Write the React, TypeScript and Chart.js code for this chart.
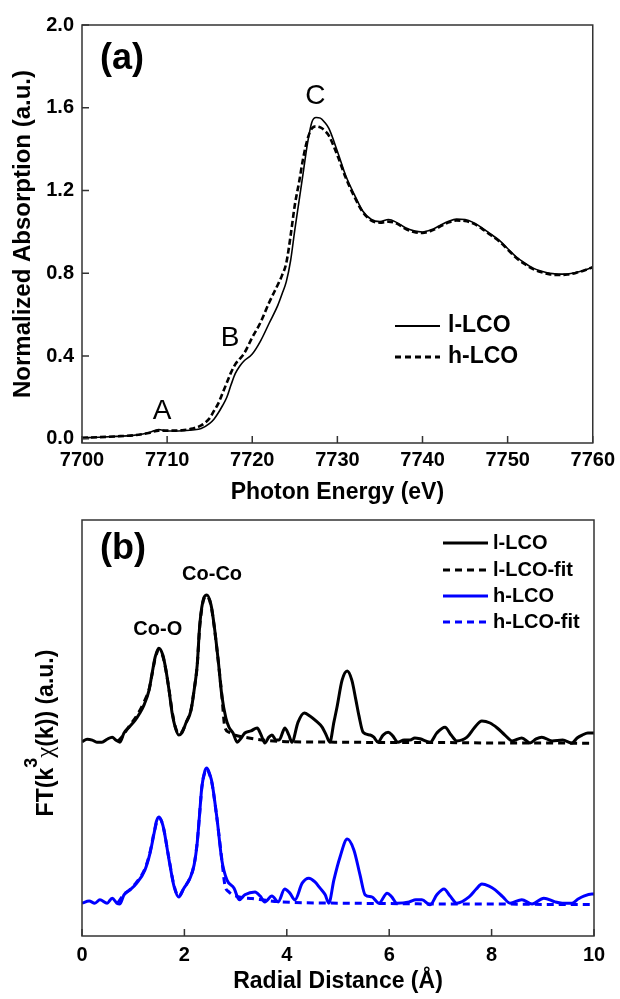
import React, { useEffect, useRef } from 'react';
import { Chart, registerables } from 'chart.js';

Chart.register(...registerables);

const FAMILY = '"Liberation Sans", Arial, Helvetica, sans-serif';

// ---------- Panel (a): XANES ----------
const energyEV = [
  7700, 7702, 7704, 7706, 7707, 7708, 7709, 7710, 7711, 7712,
  7713, 7714, 7715, 7715.5, 7716, 7716.5, 7717, 7717.5, 7718, 7718.5,
  7719, 7720, 7721, 7722, 7723, 7723.5, 7724, 7724.5, 7725, 7725.5,
  7726, 7726.5, 7727, 7727.5, 7728, 7728.5, 7729, 7730, 7731, 7732,
  7733, 7734, 7735, 7736, 7737, 7738, 7739, 7740, 7741, 7742,
  7743, 7744, 7745, 7746, 7747, 7748, 7749, 7750, 7751, 7752,
  7753, 7754, 7755, 7756, 7757, 7758, 7759, 7760,
];
const lLCOabs = [
  0.005, 0.008, 0.012, 0.017, 0.022, 0.032, 0.045, 0.038, 0.038, 0.040,
  0.043, 0.05, 0.075, 0.095, 0.125, 0.16, 0.20, 0.26, 0.315, 0.35,
  0.375, 0.41, 0.475, 0.56, 0.645, 0.70, 0.76, 0.86, 1.01, 1.15,
  1.29, 1.43, 1.53, 1.553, 1.55, 1.53, 1.50, 1.39, 1.27, 1.18,
  1.10, 1.06, 1.05, 1.06, 1.045, 1.02, 1.005, 1.00, 1.01, 1.03,
  1.05, 1.062, 1.06, 1.045, 1.02, 0.99, 0.96, 0.92, 0.88, 0.85,
  0.825, 0.81, 0.80, 0.796, 0.797, 0.804, 0.815, 0.83,
];
const hLCOabs = [
  0.005, 0.008, 0.012, 0.017, 0.022, 0.030, 0.040, 0.040, 0.040, 0.043,
  0.050, 0.065, 0.10, 0.135, 0.17, 0.22, 0.27, 0.32, 0.36, 0.385,
  0.41, 0.49, 0.565, 0.66, 0.745, 0.79, 0.85, 0.98, 1.13, 1.24,
  1.36, 1.45, 1.50, 1.51, 1.505, 1.49, 1.465, 1.37, 1.26, 1.17,
  1.095, 1.055, 1.045, 1.05, 1.04, 1.015, 1.0, 0.995, 1.005, 1.025,
  1.045, 1.055, 1.053, 1.04, 1.015, 0.985, 0.955, 0.915, 0.875, 0.845,
  0.82, 0.805, 0.795, 0.792, 0.794, 0.802, 0.814, 0.83,
];
const energyTicks = [7700, 7710, 7720, 7730, 7740, 7750, 7760];
const absTicks = [0, 0.4, 0.8, 1.2, 1.6, 2.0];

// ---------- Panel (b): EXAFS FT (offset, a.u.) ----------
const rL = [
  0, 0.10, 0.20, 0.29, 0.39, 0.49, 0.59, 0.66, 0.74, 0.82,
  0.92, 1.04, 1.13, 1.21, 1.31, 1.37, 1.43, 1.50, 1.58, 1.64,
  1.70, 1.76, 1.82, 1.89, 1.95, 2.03, 2.13, 2.19, 2.25, 2.30,
  2.38, 2.44, 2.52, 2.58, 2.66, 2.73, 2.81, 2.87, 2.95, 3.03,
  3.11, 3.18, 3.30, 3.42, 3.50, 3.57, 3.65, 3.71, 3.79, 3.85,
  3.93, 3.96, 4.04, 4.10, 4.22, 4.34, 4.45, 4.57, 4.69, 4.77,
  4.84, 4.92, 4.98, 5.08, 5.18, 5.27, 5.35, 5.41, 5.49, 5.63,
  5.70, 5.78, 5.88, 5.98, 6.07, 6.17, 6.29, 6.41, 6.50, 6.60,
  6.80, 6.93, 7.09, 7.21, 7.32, 7.52, 7.66, 7.81, 7.97, 8.11,
  8.26, 8.40, 8.59, 8.75, 8.87, 8.98, 9.18, 9.39, 9.57, 9.67,
  9.77, 9.88, 10.0,
];
const lLCO = [
  4.67, 4.73, 4.71, 4.66, 4.66, 4.73, 4.78, 4.71, 4.66, 4.88,
  5.02, 5.19, 5.36, 5.55, 5.91, 6.32, 6.71, 6.92, 6.75, 6.39,
  5.91, 5.36, 5.02, 4.83, 4.88, 5.12, 5.43, 5.91, 6.51, 7.48,
  8.13, 8.20, 7.96, 7.48, 6.63, 5.79, 5.24, 5.02, 4.88, 4.66,
  4.76, 4.88, 4.93, 5.00, 4.83, 4.64, 4.78, 4.83, 4.71, 4.71,
  4.93, 5.00, 4.83, 4.66, 5.14, 5.36, 5.29, 5.17, 5.02, 4.83,
  4.66, 5.14, 5.50, 6.15, 6.37, 6.15, 5.67, 5.29, 4.90, 4.83,
  4.78, 4.66, 4.83, 4.90, 4.81, 4.66, 4.71, 4.71, 4.76, 4.74,
  4.66, 4.88, 5.02, 4.83, 4.69, 4.78, 5.00, 5.17, 5.12, 5.00,
  4.83, 4.69, 4.76, 4.64, 4.74, 4.78, 4.69, 4.71, 4.64, 4.76,
  4.83, 4.88, 4.88,
];
const rLfit = [
  0.70, 0.80, 0.92, 1.04, 1.13, 1.21, 1.31, 1.37, 1.43, 1.50,
  1.58, 1.64, 1.70, 1.76, 1.82, 1.89, 1.95, 2.03, 2.13, 2.19,
  2.25, 2.30, 2.38, 2.44, 2.52, 2.58, 2.66, 2.73, 2.79, 2.87,
  2.99, 3.26, 3.6, 4.0, 5.0, 6.0, 7.0, 8.0, 9.0, 10.0,
];
const lLCOfit = [
  4.68, 4.82, 5.04, 5.24, 5.42, 5.62, 5.93, 6.30, 6.68, 6.88,
  6.72, 6.38, 5.92, 5.40, 5.04, 4.86, 4.90, 5.12, 5.45, 5.92,
  6.50, 7.45, 8.10, 8.17, 7.94, 7.46, 6.62, 5.80, 5.02, 4.90,
  4.83, 4.76, 4.70, 4.67, 4.66, 4.65, 4.65, 4.64, 4.64, 4.63,
];
const rH = [
  0, 0.14, 0.25, 0.35, 0.49, 0.59, 0.68, 0.74, 0.82, 0.94,
  1.07, 1.23, 1.33, 1.41, 1.45, 1.50, 1.56, 1.60, 1.70, 1.80,
  1.89, 1.99, 2.11, 2.19, 2.25, 2.30, 2.34, 2.40, 2.44, 2.50,
  2.54, 2.64, 2.73, 2.83, 2.97, 3.07, 3.18, 3.38, 3.48, 3.57,
  3.71, 3.83, 3.96, 4.06, 4.16, 4.30, 4.43, 4.55, 4.65, 4.75,
  4.82, 4.92, 5.04, 5.18, 5.31, 5.43, 5.53, 5.66, 5.80, 5.96,
  6.05, 6.15, 6.39, 6.52, 6.64, 6.80, 6.93, 7.07, 7.19, 7.32,
  7.56, 7.70, 7.81, 7.95, 8.07, 8.22, 8.36, 8.59, 8.79, 9.02,
  9.24, 9.38, 9.57, 9.69, 9.80, 9.96, 10.0,
];
const hLCO = [
  0.79, 0.84, 0.79, 0.87, 0.79, 0.91, 0.79, 0.77, 0.99, 1.11,
  1.27, 1.59, 2.00, 2.48, 2.74, 2.86, 2.74, 2.55, 1.83, 1.18,
  0.94, 1.15, 1.39, 1.71, 2.24, 2.98, 3.58, 3.97, 4.04, 3.87,
  3.68, 2.79, 1.83, 1.35, 1.15, 0.87, 0.99, 1.06, 0.96, 0.82,
  0.96, 0.82, 1.13, 1.03, 0.87, 1.27, 1.39, 1.30, 1.15, 0.99,
  0.79, 1.35, 1.90, 2.33, 2.07, 1.47, 0.99, 0.94, 0.79, 1.03,
  0.94, 0.79, 0.82, 0.87, 0.87, 0.75, 0.99, 1.13, 0.96, 0.79,
  0.94, 1.13, 1.25, 1.20, 1.11, 0.94, 0.79, 0.87, 0.77, 0.91,
  0.82, 0.79, 0.79, 0.89, 0.96, 1.01, 1.01,
];
const rHfit = [
  0.70, 0.82, 0.94, 1.07, 1.23, 1.33, 1.41, 1.50, 1.56, 1.60,
  1.70, 1.80, 1.89, 1.99, 2.11, 2.19, 2.25, 2.30, 2.34, 2.40,
  2.44, 2.50, 2.54, 2.64, 2.73, 2.79, 2.87, 3.07, 3.32, 3.9,
  5.0, 6.0, 7.0, 8.0, 9.0, 10.0,
];
const hLCOfit = [
  0.80, 1.00, 1.12, 1.30, 1.62, 2.02, 2.50, 2.84, 2.74, 2.55,
  1.85, 1.20, 0.96, 1.15, 1.40, 1.72, 2.25, 2.98, 3.56, 3.94,
  4.00, 3.85, 3.66, 2.78, 1.85, 1.23, 1.06, 0.94, 0.90, 0.82,
  0.79, 0.78, 0.77, 0.77, 0.76, 0.76,
];
const radialTicks = [0, 2, 4, 6, 8, 10];

const BLUE = '#0000ff';
const BLACK = '#000000';
const FRAME = '#333333';

const toXY = (xs: number[], ys: number[]) => {
  const n = Math.min(xs.length, ys.length);
  const out: { x: number; y: number }[] = [];
  for (let i = 0; i < n; i++) out.push({ x: xs[i], y: ys[i] });
  return out;
};

type Txt = { text: string; x: number; y: number; font: string };
type Leg = { label: string; color: string; dash: number[]; width: number; dy: number };
type DecorOpts = {
  texts: Txt[];
  legend: Leg[];
  legX0: number;
  legX1: number;
  legTextX: number;
  legFont: string;
  yTicks: boolean;
  tickLen: number;
  yTitleB?: boolean;
};

function decorPlugin(o: DecorOpts) {
  return {
    id: 'decor',
    afterDraw(chart: any) {
      const { ctx, chartArea: a, scales } = chart;
      ctx.save();
      ctx.strokeStyle = FRAME;
      ctx.lineWidth = 1.5;
      ctx.setLineDash([]);
      ctx.strokeRect(a.left, a.top, a.right - a.left, a.bottom - a.top);
      ctx.beginPath();
      scales.x.ticks.forEach((t: any) => {
        const px = scales.x.getPixelForValue(t.value);
        ctx.moveTo(px, a.bottom);
        ctx.lineTo(px, a.bottom - o.tickLen);
      });
      if (o.yTicks) {
        scales.y.ticks.forEach((t: any) => {
          const py = scales.y.getPixelForValue(t.value);
          ctx.moveTo(a.left, py);
          ctx.lineTo(a.left + o.tickLen, py);
        });
      }
      ctx.stroke();
      ctx.fillStyle = BLACK;
      ctx.textAlign = 'center';
      ctx.textBaseline = 'middle';
      o.texts.forEach((t) => {
        ctx.font = t.font;
        ctx.fillText(t.text, scales.x.getPixelForValue(t.x), scales.y.getPixelForValue(t.y));
      });
      o.legend.forEach((l) => {
        const y = a.top + l.dy;
        ctx.strokeStyle = l.color;
        ctx.lineWidth = l.width;
        ctx.setLineDash(l.dash);
        ctx.beginPath();
        ctx.moveTo(a.left + o.legX0, y);
        ctx.lineTo(a.left + o.legX1, y);
        ctx.stroke();
        ctx.setLineDash([]);
        ctx.font = o.legFont;
        ctx.fillStyle = BLACK;
        ctx.textAlign = 'left';
        ctx.textBaseline = 'middle';
        ctx.fillText(l.label, a.left + o.legTextX, y);
      });
      if (o.yTitleB) {
        const segs = [
          { t: 'FT(k', f: `bold 23px ${FAMILY}`, dy: 0 },
          { t: '3', f: `bold 18px ${FAMILY}`, dy: -16 },
          { t: '\u03C7', f: `25px "Liberation Serif", "DejaVu Serif", serif`, dy: 0 },
          { t: '(k)) (a.u.)', f: `bold 23px ${FAMILY}`, dy: 0 },
        ];
        let total = 0;
        const widths = segs.map((s) => {
          ctx.font = s.f;
          const w = ctx.measureText(s.t).width;
          total += w;
          return w;
        });
        ctx.translate(53, (a.top + a.bottom) / 2 + 5);
        ctx.rotate(-Math.PI / 2);
        ctx.textAlign = 'left';
        ctx.textBaseline = 'alphabetic';
        ctx.fillStyle = BLACK;
        let x = -total / 2;
        segs.forEach((s, i) => {
          ctx.font = s.f;
          ctx.fillText(s.t, x, s.dy);
          x += widths[i];
        });
      }
      ctx.restore();
    },
  };
}

const tickFont = { family: FAMILY, size: 20, weight: 'bold' as const };
const titleFont = { family: FAMILY, size: 23, weight: 'bold' as const };
const yTitleFontA = { family: FAMILY, size: 24, weight: 'bold' as const };

export default function App() {
  const refA = useRef<HTMLCanvasElement | null>(null);
  const refB = useRef<HTMLCanvasElement | null>(null);

  useEffect(() => {
    if (!refA.current || !refB.current) return;
    Chart.defaults.font.family = FAMILY;

    const chartA = new Chart(refA.current, {
      type: 'line',
      data: {
        datasets: [
          {
            label: 'l-LCO',
            data: toXY(energyEV, lLCOabs),
            borderColor: BLACK,
            borderWidth: 1.6,
            pointRadius: 0,
            cubicInterpolationMode: 'monotone',
            fill: false,
          },
          {
            label: 'h-LCO',
            data: toXY(energyEV, hLCOabs),
            borderColor: BLACK,
            borderWidth: 2.6,
            borderDash: [6, 3],
            pointRadius: 0,
            cubicInterpolationMode: 'monotone',
            fill: false,
          },
        ],
      },
      options: {
        responsive: false,
        animation: false,
        devicePixelRatio: 1,
        layout: { padding: { top: 25, right: 25, left: 0, bottom: 0 } },
        scales: {
          x: {
            type: 'linear',
            min: 7700,
            max: 7760,
            afterBuildTicks: (s: any) => {
              s.ticks = energyTicks.map((v) => ({ value: v }));
            },
            afterFit: (s: any) => {
              s.height = 67;
            },
            grid: { display: false, drawTicks: false },
            border: { display: false },
            ticks: { padding: 5, font: tickFont, color: BLACK, maxRotation: 0, callback: (v: any) => String(v) },
            title: { display: true, text: 'Photon Energy (eV)', font: titleFont, color: BLACK, padding: { top: 0, bottom: 4 } },
          },
          y: {
            type: 'linear',
            min: -0.02,
            max: 2.0,
            afterBuildTicks: (s: any) => {
              s.ticks = absTicks.map((v) => ({ value: v }));
            },
            afterFit: (s: any) => {
              s.width = 82;
            },
            grid: { display: false, drawTicks: false },
            border: { display: false },
            ticks: { padding: 8, font: tickFont, color: BLACK, callback: (v: any) => Number(v).toFixed(1) },
            title: { display: true, text: 'Normalized Absorption (a.u.)', font: yTitleFontA, color: BLACK, padding: { top: 9, bottom: 0 } },
          },
        },
        plugins: { legend: { display: false }, tooltip: { enabled: false } },
      } as any,
      plugins: [
        decorPlugin({
          texts: [
            { text: '(a)', x: 7704.7, y: 1.836, font: `bold 36px ${FAMILY}` },
            { text: 'A', x: 7709.4, y: 0.135, font: `28px ${FAMILY}` },
            { text: 'B', x: 7717.4, y: 0.487, font: `28px ${FAMILY}` },
            { text: 'C', x: 7727.4, y: 1.657, font: `28px ${FAMILY}` },
          ],
          legend: [
            { label: 'l-LCO', color: BLACK, dash: [], width: 2, dy: 301 },
            { label: 'h-LCO', color: BLACK, dash: [6, 4], width: 3, dy: 332 },
          ],
          legX0: 313,
          legX1: 358,
          legTextX: 366,
          legFont: `bold 23px ${FAMILY}`,
          yTicks: true,
          tickLen: 7,
        }) as any,
      ],
    });

    const chartB = new Chart(refB.current, {
      type: 'line',
      data: {
        datasets: [
          {
            label: 'l-LCO',
            data: toXY(rL, lLCO),
            borderColor: BLACK,
            borderWidth: 3,
            pointRadius: 0,
            cubicInterpolationMode: 'monotone',
            fill: false,
          },
          {
            label: 'l-LCO-fit',
            data: toXY(rLfit, lLCOfit),
            borderColor: BLACK,
            borderWidth: 3,
            borderDash: [7, 5],
            pointRadius: 0,
            cubicInterpolationMode: 'monotone',
            fill: false,
          },
          {
            label: 'h-LCO',
            data: toXY(rH, hLCO),
            borderColor: BLUE,
            borderWidth: 3,
            pointRadius: 0,
            cubicInterpolationMode: 'monotone',
            fill: false,
          },
          {
            label: 'h-LCO-fit',
            data: toXY(rHfit, hLCOfit),
            borderColor: BLUE,
            borderWidth: 3,
            borderDash: [7, 5],
            pointRadius: 0,
            cubicInterpolationMode: 'monotone',
            fill: false,
          },
        ],
      },
      options: {
        responsive: false,
        animation: false,
        devicePixelRatio: 1,
        layout: { padding: { top: 10, right: 26, left: 0, bottom: 0 } },
        scales: {
          x: {
            type: 'linear',
            min: 0,
            max: 10,
            afterBuildTicks: (s: any) => {
              s.ticks = radialTicks.map((v) => ({ value: v }));
            },
            afterFit: (s: any) => {
              s.height = 63;
            },
            grid: { display: false, drawTicks: false },
            border: { display: false },
            ticks: { padding: 7, font: tickFont, color: BLACK, maxRotation: 0, callback: (v: any) => String(v) },
            title: { display: true, text: 'Radial Distance (\u00C5)', font: titleFont, color: BLACK, padding: { top: 0, bottom: 4 } },
          },
          y: {
            type: 'linear',
            min: 0,
            max: 10,
            afterFit: (s: any) => {
              s.width = 82;
            },
            grid: { display: false, drawTicks: false },
            border: { display: false },
            ticks: { display: false },
            title: { display: false },
          },
        },
        plugins: { legend: { display: false }, tooltip: { enabled: false } },
      } as any,
      plugins: [
        decorPlugin({
          texts: [
            { text: '(b)', x: 0.80, y: 9.30, font: `bold 36px ${FAMILY}` },
            { text: 'Co-O', x: 1.48, y: 7.38, font: `bold 20px ${FAMILY}` },
            { text: 'Co-Co', x: 2.54, y: 8.70, font: `bold 20px ${FAMILY}` },
          ],
          legend: [
            { label: 'l-LCO', color: BLACK, dash: [], width: 3, dy: 23 },
            { label: 'l-LCO-fit', color: BLACK, dash: [7, 5], width: 3, dy: 50 },
            { label: 'h-LCO', color: BLUE, dash: [], width: 3, dy: 76 },
            { label: 'h-LCO-fit', color: BLUE, dash: [7, 5], width: 3, dy: 102 },
          ],
          legX0: 361,
          legX1: 406,
          legTextX: 411,
          legFont: `bold 20px ${FAMILY}`,
          yTicks: false,
          tickLen: 7,
          yTitleB: true,
        }) as any,
      ],
    });

    return () => {
      chartA.destroy();
      chartB.destroy();
    };
  }, []);

  return (
    <div style={{ position: 'absolute', left: 0, top: 0, width: 620, height: 999, background: '#fff' }}>
      <canvas ref={refA} width={620} height={510} style={{ position: 'absolute', left: 0, top: 0, width: 620, height: 510 }} />
      <canvas ref={refB} width={620} height={489} style={{ position: 'absolute', left: 0, top: 510, width: 620, height: 489 }} />
    </div>
  );
}
